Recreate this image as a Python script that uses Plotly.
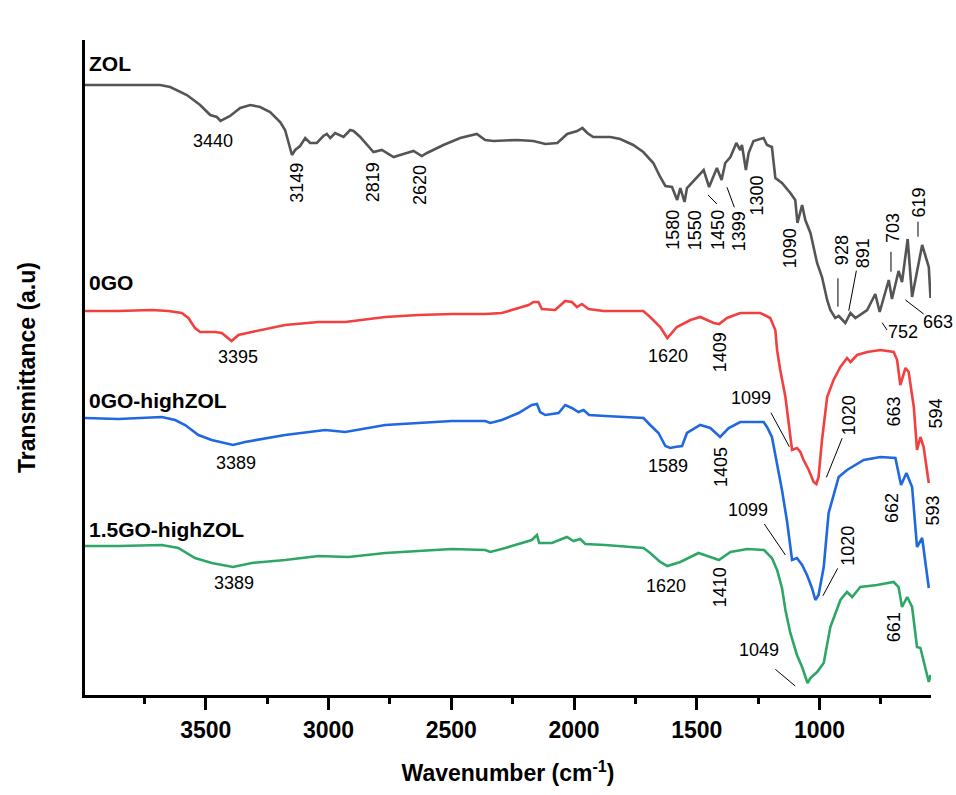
import plotly.graph_objects as go

# ---------------- data (wavenumber cm-1, transmittance a.u.) ----------------
zol_wn = [3992, 3686, 3645, 3577, 3523, 3482, 3455, 3440, 3401, 3360, 3319, 3279, 3238, 3197, 3177,
          3163, 3149, 3136, 3116, 3095, 3075, 3048, 3021, 3007, 2993, 2973, 2939, 2912, 2898, 2871,
          2844, 2817, 2783, 2735, 2695, 2654, 2620, 2599, 2532, 2464, 2396, 2362, 2328, 2231, 2166,
          2117, 2068, 2028, 1987, 1966, 1946, 1922, 1893, 1852, 1812, 1759, 1718, 1677, 1649, 1628,
          1601, 1580, 1567, 1550, 1540, 1499, 1472, 1450, 1438, 1418, 1399, 1384, 1363, 1339, 1323,
          1316, 1300, 1289, 1269, 1228, 1214, 1194, 1180, 1153, 1119, 1099, 1090, 1071, 1058, 1037,
          1010, 990, 969, 956, 936, 922, 895, 874, 854, 806, 773, 755, 718, 705, 678, 664, 641, 623,
          582, 555, 548]
zol_t = [61.0, 61.0, 60.8, 60.0, 59.0, 58.0, 57.8, 57.4, 57.9, 58.7, 59.0, 58.8, 58.3, 57.3, 56.5,
         55.2, 54.0, 54.5, 54.9, 55.7, 55.2, 55.2, 55.9, 56.1, 55.7, 56.2, 55.8, 56.5, 56.4, 55.8,
         55.0, 54.3, 54.5, 53.8, 54.1, 54.4, 53.9, 54.2, 55.0, 55.7, 56.1, 55.5, 55.4, 55.5, 55.4,
         55.1, 55.2, 56.1, 56.4, 56.7, 56.2, 55.8, 55.8, 55.8, 55.6, 55.0, 54.3, 53.2, 51.8, 50.9,
         50.8, 49.5, 50.7, 49.3, 50.7, 51.8, 52.5, 50.8, 51.5, 52.7, 51.5, 53.2, 53.8, 55.2, 54.5,
         55.0, 52.5, 54.2, 55.4, 55.7, 55.0, 54.8, 51.7, 51.2, 50.2, 49.5, 47.2, 49.0, 47.5, 46.2,
         43.2, 41.8, 39.5, 38.5, 37.7, 37.9, 37.2, 38.2, 37.7, 38.5, 40.1, 38.3, 41.5, 39.6, 42.4,
         41.3, 45.6, 39.8, 45.0, 42.8, 39.7]

go0_wn = [3992, 3856, 3720, 3652, 3598, 3571, 3544, 3523, 3462, 3435, 3395, 3367, 3313, 3177, 3041,
          2932, 2769, 2634, 2498, 2362, 2294, 2226, 2185, 2165, 2145, 2131, 2077, 2036, 2009, 1988,
          1968, 1941, 1880, 1718, 1690, 1649, 1620, 1581, 1526, 1486, 1431, 1409, 1377, 1323, 1241,
          1201, 1180, 1173, 1160, 1139, 1126, 1112, 1092, 1078, 1065, 1044, 1024, 1013, 1004, 990,
          969, 943, 915, 888, 874, 847, 806, 752, 698, 684, 671, 650, 637, 616, 603, 589, 576, 555]
go0_t = [38.4, 38.4, 38.5, 38.4, 38.2, 37.7, 36.7, 36.3, 36.3, 36.2, 35.4, 36.0, 36.3, 37.0, 37.3,
         37.3, 37.8, 38.0, 38.1, 38.1, 38.2, 38.7, 39.0, 39.3, 39.3, 38.6, 38.5, 39.4, 39.3, 38.8,
         39.1, 38.6, 38.4, 38.4, 37.8, 36.8, 35.7, 36.8, 37.5, 37.8, 37.2, 37.1, 37.7, 38.2, 38.2,
         37.7, 36.5, 34.5, 32.5, 29.8, 27.2, 24.5, 24.7, 24.3, 23.5, 22.5, 21.3, 21.1, 21.8, 25.5,
         29.8, 31.5, 32.8, 33.7, 33.3, 34.0, 34.3, 34.5, 34.3, 33.5, 31.0, 32.7, 32.3, 28.8, 24.5,
         25.8, 24.8, 21.2]

hz_wn = [3992, 3856, 3679, 3625, 3584, 3530, 3476, 3435, 3389, 3340, 3177, 3014, 2932, 2769, 2634,
         2498, 2362, 2341, 2294, 2226, 2172, 2151, 2138, 2117, 2063, 2036, 2009, 1982, 1961, 1939,
         1873, 1717, 1690, 1656, 1628, 1608, 1589, 1560, 1540, 1486, 1445, 1405, 1370, 1323, 1228,
         1214, 1194, 1173, 1153, 1132, 1112, 1092, 1071, 1051, 1031, 1017, 1004, 983, 963, 922, 888,
         820, 752, 691, 668, 646, 623, 603, 582, 555]
hz_t = [27.7, 27.6, 27.8, 27.5, 27.0, 26.0, 25.5, 25.3, 25.0, 25.3, 26.0, 26.5, 26.3, 27.0, 27.2,
        27.4, 27.4, 27.2, 27.5, 28.2, 29.0, 29.1, 28.3, 28.0, 28.2, 29.0, 28.7, 28.3, 28.5, 28.0,
        27.9, 27.7, 27.0, 26.2, 24.9, 24.7, 24.8, 24.9, 26.2, 27.0, 26.7, 25.8, 26.7, 27.3, 27.3,
        26.8, 25.8, 23.2, 20.5, 17.3, 13.5, 13.7, 13.0, 12.0, 10.7, 9.5, 10.0, 12.8, 18.2, 21.8, 22.5,
        23.5, 23.8, 23.7, 21.0, 22.2, 20.8, 14.8, 15.7, 10.7]

g15_wn = [3992, 3856, 3679, 3612, 3544, 3476, 3389, 3313, 3177, 3041, 2919, 2769, 2634, 2498, 2362,
          2341, 2280, 2212, 2172, 2151, 2142, 2090, 2029, 2002, 1975, 1954, 1873, 1717, 1690, 1649,
          1620, 1567, 1493, 1445, 1410, 1363, 1294, 1226, 1194, 1173, 1153, 1139, 1119, 1092, 1071,
          1049, 1037, 1010, 983, 956, 915, 888, 867, 834, 766, 698, 678, 664, 643, 623, 603, 589, 569,
          555, 548]
g15_t = [14.9, 14.9, 15.0, 14.7, 13.7, 13.2, 12.8, 13.2, 13.5, 13.9, 13.8, 14.2, 14.4, 14.6, 14.5,
         14.3, 14.7, 15.2, 15.5, 16.0, 15.2, 15.2, 15.8, 15.4, 15.6, 15.1, 15.0, 14.7, 14.2, 13.3,
         12.9, 13.3, 14.2, 13.8, 13.5, 14.3, 14.6, 14.5, 13.7, 12.5, 10.7, 8.5, 6.2, 4.0, 2.8,
         1.2, 1.7, 2.3, 3.2, 6.8, 9.5, 10.3, 9.8, 10.8, 11.0, 11.3, 10.8, 8.8, 9.8, 8.8, 4.8, 4.7, 2.8,
         1.3, 2.0]

series_names = ["ZOL", "0GO", "0GO-highZOL", "1.5GO-highZOL"]
series_colors = ["#555555", "#f23f3f", "#1f68e0", "#2ea766"]
series_label_y = [63.2, 41.3, 29.5, 16.6]

x_tickvals = [3500, 3000, 2500, 2000, 1500, 1000]

# peak labels: (text, x, y, angle, xshift)
peak_labels = [
    ("3440", 3470, 55.45, 0, 0), ("3149", 3129, 51.2, -90, 0), ("2819", 2820, 51.25, -90, 0),
    ("2620", 2627, 51.0, -90, 0), ("1580", 1598, 46.5, -90, 0), ("1550", 1506, 46.5, -90, 0),
    ("1450", 1414, 46.5, -90, 0), ("1399", 1327, 46.4, -90, 0), ("1300", 1253, 50.0, -90, 0),
    ("1090", 1119, 44.7, -90, 0), ("928", 908, 44.5, -90, 0), ("891", 822, 44.2, -90, 0),
    ("703", 701, 46.7, -90, 0), ("619", 593, 49.3, -90, 0), ("752", 661, 36.3, 0, 0),
    ("663", 580, 37.3, 0, 15),
    ("3395", 3370, 33.8, 0, 0), ("1620", 1618, 33.95, 0, 0), ("1409", 1404, 34.3, -90, 0),
    ("1099", 1279, 29.75, 0, 0), ("1020", 879, 28.0, -90, 0), ("663", 695, 28.4, -90, 0),
    ("594", 560, 28.1, -90, 8),
    ("3389", 3377, 23.25, 0, 0), ("1589", 1618, 22.9, 0, 0), ("1405", 1404, 22.83, -90, 0),
    ("1099", 1292, 18.5, 0, 0), ("1020", 885, 14.9, -90, 0), ("662", 705, 18.7, -90, 0),
    ("593", 560, 18.4, -90, 5),
    ("3389", 3385, 11.25, 0, 0), ("1620", 1624, 10.95, 0, 0), ("1410", 1404, 10.8, -90, 0),
    ("1049", 1245, 4.5, 0, 0), ("661", 699, 6.83, -90, 0),
]

# leader lines: (x0, y0, x1, y1)
leader_lines = [
    (1454, 50.0, 1418, 49.1), (1377, 50.77, 1347, 48.77), (925, 41.67, 925, 38.83),
    (850, 42.43, 881, 38.43), (709, 44.33, 709, 42.33), (599, 47.33, 599, 45.83),
    (745, 37.23, 725, 36.5), (650, 39.5, 576, 38.1),
    (1198, 28.23, 1123, 24.83), (908, 25.67, 972, 21.77),
    (1225, 17.1, 1139, 14.0), (926, 12.67, 986, 9.93),
    (1180, 2.57, 1099, 0.9),
]

FONT = "Liberation Sans, Arial, Helvetica, sans-serif"

fig = go.Figure()
for name, wn, t, col in zip(series_names, [zol_wn, go0_wn, hz_wn, g15_wn],
                            [zol_t, go0_t, hz_t, g15_t], series_colors):
    fig.add_trace(go.Scatter(x=wn, y=t, mode="lines", name=name,
                             line=dict(color=col, width=2.6), showlegend=False))

annotations = []
for name, ly in zip(series_names, series_label_y):
    annotations.append(dict(x=3982, y=ly, xref="x", yref="y", text="<b>%s</b>" % name,
                            showarrow=False, xanchor="left", yanchor="middle",
                            font=dict(family=FONT, size=21, color="black")))
for txt, x, y, ang, xs in peak_labels:
    annotations.append(dict(x=x, y=y, xref="x", yref="y", text=txt, showarrow=False,
                            textangle=ang, xanchor="center", yanchor="middle", xshift=xs,
                            font=dict(family=FONT, size=18, color="black")))

shapes = [dict(type="line", xref="x", yref="y", x0=a, y0=b, x1=c, y1=d,
               line=dict(color="black", width=1)) for a, b, c, d in leader_lines]

fig.update_layout(
    width=956, height=795,
    margin=dict(l=85, r=25, t=40, b=100),
    paper_bgcolor="white", plot_bgcolor="white",
    font=dict(family=FONT, color="black"),
    annotations=annotations, shapes=shapes,
    xaxis=dict(range=[3992, 546], tickvals=x_tickvals, ticks="outside", ticklen=12, tickwidth=3,
               tickcolor="black", showline=True, linewidth=3, linecolor="black", mirror=False,
               showgrid=False, zeroline=False,
               tickfont=dict(family=FONT, size=23, color="black", weight="bold"),
               minor=dict(dtick=250, tick0=750, ticks="outside", ticklen=6, tickwidth=3,
                          tickcolor="black", showgrid=False),
               title=dict(text="<b>Wavenumber (cm<sup>-1</sup>)</b>", standoff=24,
                          font=dict(family=FONT, size=23, color="black"))),
    yaxis=dict(range=[0, 65.5], showline=True, linewidth=3, linecolor="black",
               showticklabels=False, ticks="", showgrid=False, zeroline=False,
               title=dict(text="<b>Transmittance (a.u)</b>", standoff=40,
                          font=dict(family=FONT, size=23, color="black"))),
)

fig.write_html("out.html")
